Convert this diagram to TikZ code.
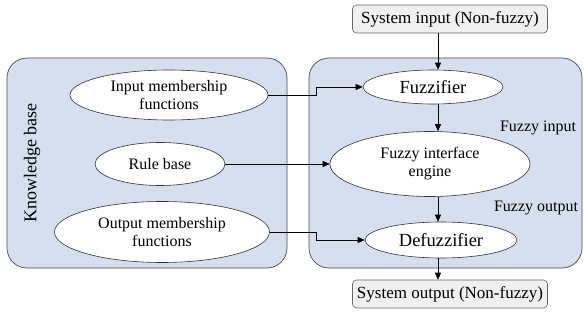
\documentclass[tikz,border=0pt]{standalone}
\usepackage{fontspec}
\setmainfont{Liberation Serif}
\usetikzlibrary{shapes.geometric,arrows.meta}
\definecolor{panelblue}{RGB}{214,223,239}
\definecolor{boxgray}{RGB}{240,240,240}
\begin{document}
\begin{tikzpicture}[x=1pt,y=-1pt,
		panel/.style={draw=black!70,fill=panelblue,rounded corners=20pt,line width=0.7pt},
		oval/.style={ellipse,draw=black!80,fill=white,align=center,inner sep=0pt,line width=0.6pt,font=\fontsize{16}{18}\selectfont},
		iobox/.style={draw=black!60,fill=boxgray,rounded corners=4pt,minimum width=195pt,minimum height=28pt,line width=0.6pt,font=\fontsize{17}{19}\selectfont},
		arr/.style={-{Triangle[length=7pt,width=6pt]},line width=0.7pt}]
		\useasboundingbox (0,0) rectangle (584,326);

		% Panels
		\draw[panel] (7,58) rectangle (287,268);
		\draw[panel] (309,58) rectangle (582,268);
		\node[rotate=90,font=\fontsize{18}{20}\selectfont] (kb) at (32,163) {Knowledge base};

		% Knowledge base parts
		\node[oval,minimum width=198pt,minimum height=50pt] (imf) at (169,95) {Input membership\\functions};
		\node[oval,minimum width=130pt,minimum height=43pt] (rule) at (160,164) {Rule base};
		\node[oval,minimum width=215pt,minimum height=61pt] (omf) at (162,232) {Output membership\\functions};

		% Fuzzy system
		\node[iobox] (sysin) at (450,19) {System input (Non-fuzzy)};
		\node[oval,minimum width=140pt,minimum height=34pt,font=\fontsize{18.5}{20}\selectfont] (fuzz) at (433,87) {Fuzzifier};
		\node[oval,minimum width=200pt,minimum height=65pt] (engine) at (430,164) {Fuzzy interface\\engine};
		\node[oval,minimum width=152pt,minimum height=36pt,font=\fontsize{18.5}{20}\selectfont] (defuzz) at (441,240) {Defuzzifier};
		\node[iobox] (sysout) at (450,294) {System output (Non-fuzzy)};
		\node[font=\fontsize{16}{18}\selectfont] (fin) at (538,128) {Fuzzy input};
		\node[font=\fontsize{16}{18}\selectfont] (fout) at (536,208) {Fuzzy output};

		% Connectors
		\coordinate (jog) at (316,0);
		\coordinate (axis) at (438,0);
		\draw[arr] (imf.east) -- (imf.east -| jog) |- (fuzz.west);
		\draw[arr] (rule.east) -- (engine.west);
		\draw[arr] (omf.east) -- (omf.east -| jog) |- (defuzz.west);
		\draw[arr] (sysin.south -| axis) -- (fuzz.north -| axis);
		\draw[arr] (fuzz.south -| axis) -- (engine.north -| axis);
		\draw[arr] (engine.south -| axis) -- (defuzz.north -| axis);
		\draw[arr] (defuzz.south -| axis) -- (sysout.north -| axis);
	\end{tikzpicture}
\end{document}
